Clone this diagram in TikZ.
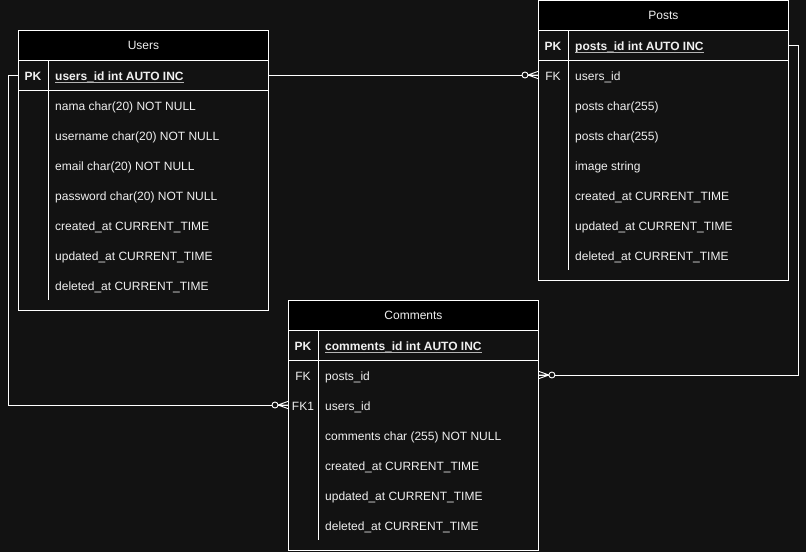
\documentclass[tikz,border=0pt]{standalone}
\usepackage{fontspec}
\setmainfont{Liberation Sans}
\definecolor{bg}{HTML}{121212}
\definecolor{fg}{HTML}{F0F0F0}
\definecolor{ulc}{HTML}{B4B4B4}
\begin{document}
\begin{tikzpicture}[x=1pt,y=-1pt,
  tline/.style={draw=white,line width=0.9pt},
  tbox/.style={draw=white,line width=0.9pt,fill=bg,minimum width=250pt,inner sep=0pt,anchor=north west},
  thead/.style={draw=white,line width=0.9pt,fill=black,minimum width=250pt,minimum height=30pt,inner sep=0pt,anchor=north west,text=fg,font=\fontsize{12}{14}\selectfont},
  keycell/.style={inner sep=0pt,text height=12pt,text depth=2pt,text=fg,font=\fontsize{12}{14}\selectfont},
  field/.style={anchor=west,inner sep=0pt,text height=12pt,text depth=2pt,text=fg,font=\fontsize{12}{14}\selectfont},
  uline/.style={draw=ulc,line width=1.2pt},
  conn/.style={draw=white,line width=0.9pt},
  zm/.pic={
    \draw[conn,fill=bg] (-13,0) circle (3);
    \draw[conn] (-10,0) -- (0,-3.6) (-10,0) -- (0,3.6) (-10,0) -- (0,0);
  }]
\useasboundingbox[fill=bg] (0,0) rectangle (806,552);

% ---------- Users ----------
\node[tbox,minimum height=280pt] (users) at (18,30) {};
\node[thead] (usersH) at (18,30) {Users};
\draw[tline] (18,90) -- (268,90);
\draw[tline] (48,60) -- (48,300);
\node[keycell] (usersPKk) at (33,75) {\bfseries PK};
\node[field] (usersPK) at (55,75) {\bfseries users\_id int AUTO INC};
\draw[uline] ([yshift=-0.2pt]usersPK.south west) -- ([yshift=-0.2pt]usersPK.south east);
\foreach \t [count=\i] in {nama char(20) NOT NULL, username char(20) NOT NULL, email char(20) NOT NULL, password char(20) NOT NULL, created\_at CURRENT\_TIME, updated\_at CURRENT\_TIME, deleted\_at CURRENT\_TIME}
  \node[field] (usersR\i) at (55,75+30*\i) {\t};

% ---------- Posts ----------
\node[tbox,minimum height=280pt] (posts) at (538,0) {};
\node[thead] (postsH) at (538,0) {Posts};
\draw[tline] (538,60) -- (788,60);
\draw[tline] (568,30) -- (568,270);
\node[keycell] (postsPKk) at (553,45) {\bfseries PK};
\node[field] (postsPK) at (575,45) {\bfseries posts\_id int AUTO INC};
\draw[uline] ([yshift=-0.2pt]postsPK.south west) -- ([yshift=-0.2pt]postsPK.south east);
\node[keycell] (postsFKk) at (553,75) {FK};
\node[field] (postsFK) at (575,75) {users\_id};
\foreach \t [count=\i] in {posts char(255), posts char(255), image string, created\_at CURRENT\_TIME, updated\_at CURRENT\_TIME, deleted\_at CURRENT\_TIME}
  \node[field] (postsR\i) at (575,75+30*\i) {\t};

% ---------- Comments ----------
\node[tbox,minimum height=250pt] (comments) at (288,300) {};
\node[thead] (commentsH) at (288,300) {Comments};
\draw[tline] (288,360) -- (538,360);
\draw[tline] (318,330) -- (318,540);
\node[keycell] (commentsPKk) at (303,345) {\bfseries PK};
\node[field] (commentsPK) at (325,345) {\bfseries comments\_id int AUTO INC};
\draw[uline] ([yshift=-0.2pt]commentsPK.south west) -- ([yshift=-0.2pt]commentsPK.south east);
\node[keycell] (commentsFKk) at (303,375) {FK};
\node[field] (commentsFK) at (325,375) {posts\_id};
\node[keycell] (commentsFK1k) at (303,405) {FK1};
\node[field] (commentsFK1) at (325,405) {users\_id};
\foreach \t [count=\i] in {comments char (255) NOT NULL, created\_at CURRENT\_TIME, updated\_at CURRENT\_TIME, deleted\_at CURRENT\_TIME}
  \node[field] (commentsR\i) at (325,405+30*\i) {\t};

% ---------- Connectors ----------
\draw[conn] (users.east |- usersPKk) -- (posts.west |- postsFKk);
\pic at (posts.west |- postsFKk) {zm};

\draw[conn] (posts.east |- postsPKk) -- ++(10,0) |- (comments.east |- commentsFKk);
\pic[rotate=180] at (comments.east |- commentsFKk) {zm};

\draw[conn] (users.west |- usersPKk) -- ++(-10,0) |- (comments.west |- commentsFK1k);
\pic at (comments.west |- commentsFK1k) {zm};
\end{tikzpicture}
\end{document}
